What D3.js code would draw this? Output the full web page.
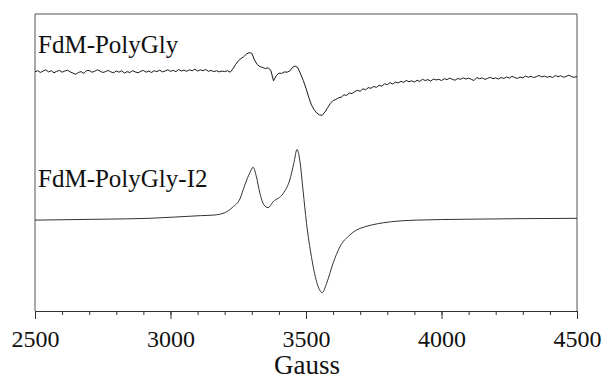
<!DOCTYPE html>
<html>
<head>
<meta charset="utf-8">
<script src="https://cdn.jsdelivr.net/npm/d3@7"></script>
<style>
  body { margin: 0; background: #fff; }
  svg text { font-family: "Liberation Serif", "Times New Roman", Times, serif; fill: #111; }
</style>
</head>
<body>
<script>
'use strict';

// magnetic field ticks (Gauss)
const majorTicks = [2500, 3000, 3500, 4000, 4500]
const minorTicks = d3.range(2500, 4501, 100)

const seriesNames = ["FdM-PolyGly", "FdM-PolyGly-I2"]

// FdM-PolyGly, sampled every 10 G from 2500 to 4500 (arb. units, offset incl.)
const polyGlyField = d3.range(2500, 4501, 10)
const polyGlySignal = [
  80.6, 80.9, 80.3, 80.8, 81.2, 80.5, 80.9, 80.2, 80.7, 81.0,
  80.4, 80.8, 81.1, 80.5, 80.1, 79.7, 80.3, 80.6, 80.0, 80.9,
  81.0, 80.4, 80.7, 81.2, 80.8, 80.3, 80.6, 81.0, 80.5, 80.2,
  80.8, 80.4, 80.9, 80.1, 80.6, 80.3, 80.9, 80.5, 80.2, 80.7,
  81.0, 80.4, 80.8, 80.3, 80.9, 80.6, 81.1, 80.5, 80.8, 81.2,
  80.7, 81.0, 80.6, 81.3, 80.8, 81.1, 80.7, 81.2, 80.9, 81.4,
  80.8, 81.2, 80.9, 81.3, 80.7, 81.0, 80.6, 80.9, 80.5, 80.8,
  80.6, 80.9, 80.4, 81.5, 83.0, 84.2, 85.0, 85.6, 86.5, 87.0,
  86.8, 84.5, 83.0, 82.3, 82.0, 81.6, 81.9, 81.1, 77.5, 79.2,
  80.1, 80.0, 80.5, 80.4, 80.8, 82.0, 82.5, 81.9, 79.8, 77.6,
  75.0, 72.0, 69.4, 67.8, 66.6, 66.0, 65.9, 67.0, 68.5, 69.9,
  70.9, 71.2, 71.8, 72.0, 72.8, 72.6, 73.4, 73.2, 73.9, 74.3,
  74.0, 74.8, 74.5, 75.2, 75.0, 75.6, 75.3, 76.0, 75.7, 76.5,
  76.2, 76.9, 76.4, 77.1, 76.8, 77.3, 77.0, 77.6, 77.2, 77.5,
  77.1, 77.7, 77.3, 78.0, 77.6, 77.9, 77.4, 78.1, 77.8, 78.0,
  77.6, 78.2, 77.9, 78.4, 78.0, 77.7, 78.3, 78.0, 78.5, 78.1,
  78.4, 78.0, 77.6, 78.6, 78.2, 78.5, 78.0, 78.3, 78.7, 78.2,
  78.5, 78.1, 78.6, 78.3, 78.8, 78.4, 79.0, 78.6, 78.3, 78.8,
  78.5, 79.1, 78.7, 79.0, 78.6, 78.9, 79.3, 78.8, 79.1, 78.7,
  79.0, 78.6, 79.3, 78.9, 79.2, 78.7, 79.0, 79.4, 78.9, 78.7,
  78.9
]

// FdM-PolyGly-I2 (smooth trace), field points and signal (arb. units, offset incl.)
const polyGlyI2Field = [
  2500, 2740, 2920, 3110, 3160, 3200, 3230, 3256, 3274, 3292,
  3305, 3317, 3330, 3345, 3360, 3379, 3416, 3440, 3455, 3467,
  3477, 3489, 3502, 3520, 3539, 3560, 3576, 3600, 3625, 3662,
  3687, 3700, 3785, 3908, 4093, 4500
]
const polyGlyI2Signal = [
  30.6, 30.9, 31.2, 32.1, 32.3, 33.1, 35.0, 37.7, 42.4, 46.4,
  48.4, 45.2, 39.6, 35.7, 34.8, 36.8, 39.6, 44.1, 49.7, 54.4,
  50.8, 40.7, 29.5, 18.3, 9.9, 6.2, 9.3, 16.1, 21.6, 25.6,
  27.3, 27.8, 29.7, 30.6, 30.9, 31.2
]

const m = { left: 35, right: 577, top: 14, bottom: 311 }
const serif = '"Liberation Serif", "Times New Roman", Times, serif'

const svg = d3.select('body')
  .append('svg')
  .attr('width', 603)
  .attr('height', 379)

const xScale = d3.scaleLinear()
  .domain([2500, 4500])
  .range([m.left, m.right])

const yScale = d3.scaleLinear()
  .domain([0, 100])
  .range([m.bottom, m.top])

// frame (top, left, right)
svg.append('path')
  .attr('d', `M${m.left},${m.bottom}V${m.top}H${m.right}V${m.bottom}`)
  .attr('fill', 'none')
  .attr('stroke', '#555')
  .attr('stroke-width', 1)

// minor ticks every 100 G
svg.append('g')
  .attr('transform', `translate(0,${m.bottom})`)
  .call(d3.axisBottom(xScale).tickValues(minorTicks).tickSize(4).tickSizeOuter(0).tickFormat(''))
  .call(g => g.selectAll('line').attr('stroke', '#333'))
  .call(g => g.select('.domain').attr('stroke', '#333'))

// major ticks with labels
svg.append('g')
  .attr('transform', `translate(0,${m.bottom})`)
  .call(d3.axisBottom(xScale).tickValues(majorTicks).tickSize(8).tickSizeOuter(0).tickPadding(11).tickFormat(d3.format('d')))
  .attr('font-family', serif)
  .attr('font-size', 24)
  .call(g => g.select('.domain').remove())
  .call(g => g.selectAll('line').attr('stroke', '#333'))
  .call(g => g.selectAll('text').attr('fill', '#111'))

// x label
svg.append('text')
  .attr('x', (m.left + m.right) / 2 + 1)
  .attr('y', 374)
  .attr('text-anchor', 'middle')
  .style('font-size', '27px')
  .text('Gauss')

const line = d3.line()
  .x(d => xScale(d[0]))
  .y(d => yScale(d[1]))

// noisy trace
svg.append('path')
  .datum(d3.zip(polyGlyField, polyGlySignal))
  .attr('d', line.curve(d3.curveLinear))
  .attr('fill', 'none')
  .attr('stroke', '#1a1a1a')
  .attr('stroke-width', 1)

// smooth trace
svg.append('path')
  .datum(d3.zip(polyGlyI2Field, polyGlyI2Signal))
  .attr('d', line.curve(d3.curveMonotoneX))
  .attr('fill', 'none')
  .attr('stroke', '#333')
  .attr('stroke-width', 1)

// series labels
svg.append('text')
  .attr('x', 38)
  .attr('y', 53)
  .style('font-size', '25px')
  .text(seriesNames[0])

svg.append('text')
  .attr('x', 38)
  .attr('y', 187)
  .style('font-size', '25px')
  .text(seriesNames[1])
</script>
</body>
</html>
